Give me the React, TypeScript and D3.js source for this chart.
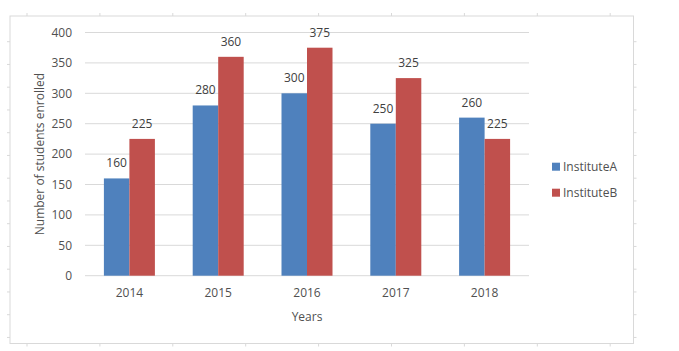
import * as d3 from 'd3'

const years = ['2014', '2015', '2016', '2017', '2018']
const seriesNames = ['InstituteA', 'InstituteB']
const instituteA = [160, 280, 300, 250, 260]
const instituteB = [225, 360, 375, 325, 225]
const yTicks = [0, 50, 100, 150, 200, 250, 300, 350, 400]

const W = 679
const H = 351
const colors = ['#4F81BD', '#C0504D']
const font = "'Open Sans', 'Liberation Sans', sans-serif"

export default function App() {
  const left = 85
  const right = 529
  const top = 32.5
  const bottom = 275.7

  const x = d3.scaleBand().domain(years).range([left, right])
  const y = d3.scaleLinear().domain([0, 400]).range([bottom, top])
  const barW = 25.5
  const series = [instituteA, instituteB]

  // frame edges and the faint sheet ticks around it
  const fx0 = 10, fx1 = 633.5, fy0 = 16, fy1 = 343.5
  const colTicks = d3.range(27, fx1, 72.9)
  const rowTicks = d3.range(41.7, fy1, 22.75)

  return (
    <svg width={W} height={H} style={{ position: 'absolute', left: 0, top: 0, background: '#fff' }}>
      <rect x={fx0} y={fy0} width={fx1 - fx0} height={fy1 - fy0} fill="#fff" stroke="#D9D9D9" strokeWidth={1} />
      {colTicks.map((t, i) => (
        <g key={'c' + i} stroke="#D9D9D9">
          <line x1={t} x2={t} y1={fy0 - 3} y2={fy0} />
          <line x1={t} x2={t} y1={fy1} y2={fy1 + 3} />
        </g>
      ))}
      {rowTicks.map((t, i) => (
        <g key={'r' + i} stroke="#D9D9D9">
          <line x1={fx0 - 3} x2={fx0} y1={t} y2={t} />
          <line x1={fx1} x2={fx1 + 3} y1={t} y2={t} />
        </g>
      ))}

      {yTicks.map(t => (
        <g key={t}>
          <line x1={left} x2={right} y1={y(t)} y2={y(t)} stroke="#D9D9D9" strokeWidth={1} />
          <text x={72} y={y(t)} dy="0.35em" textAnchor="end" fontFamily={font} fontSize={12} fill="#505050">{t}</text>
        </g>
      ))}

      {years.map((yr, i) => {
        const cx = (x(yr) || 0) + x.bandwidth() / 2
        return (
          <g key={yr}>
            {series.map((s, k) => {
              const bx = cx - barW + k * barW
              return (
                <g key={k}>
                  <rect x={bx} y={y(s[i])} width={barW} height={bottom - y(s[i])} fill={colors[k]} />
                  <text x={bx + barW / 2} y={y(s[i]) - 11} textAnchor="middle" fontFamily={font} fontSize={12} fill="#404040">{s[i]}</text>
                </g>
              )
            })}
            <text x={cx} y={292.7} dy="0.35em" textAnchor="middle" fontFamily={font} fontSize={12} fill="#505050">{yr}</text>
          </g>
        )
      })}

      <text x={(left + right) / 2} y={316.7} dy="0.35em" textAnchor="middle" fontFamily={font} fontSize={12} fill="#505050">Years</text>
      <text transform={`translate(40, ${(top + bottom) / 2}) rotate(-90)`} dy="0.35em" textAnchor="middle" fontFamily={font} fontSize={12} fill="#505050">Number of students enrolled</text>

      {seriesNames.map((n, k) => (
        <g key={n} transform={`translate(552, ${166.7 + k * 26})`}>
          <rect x={0} y={-4} width={8} height={8} fill={colors[k]} />
          <text x={11} y={0} dy="0.35em" fontFamily={font} fontSize={12} fill="#505050">{n}</text>
        </g>
      ))}
    </svg>
  )
}
